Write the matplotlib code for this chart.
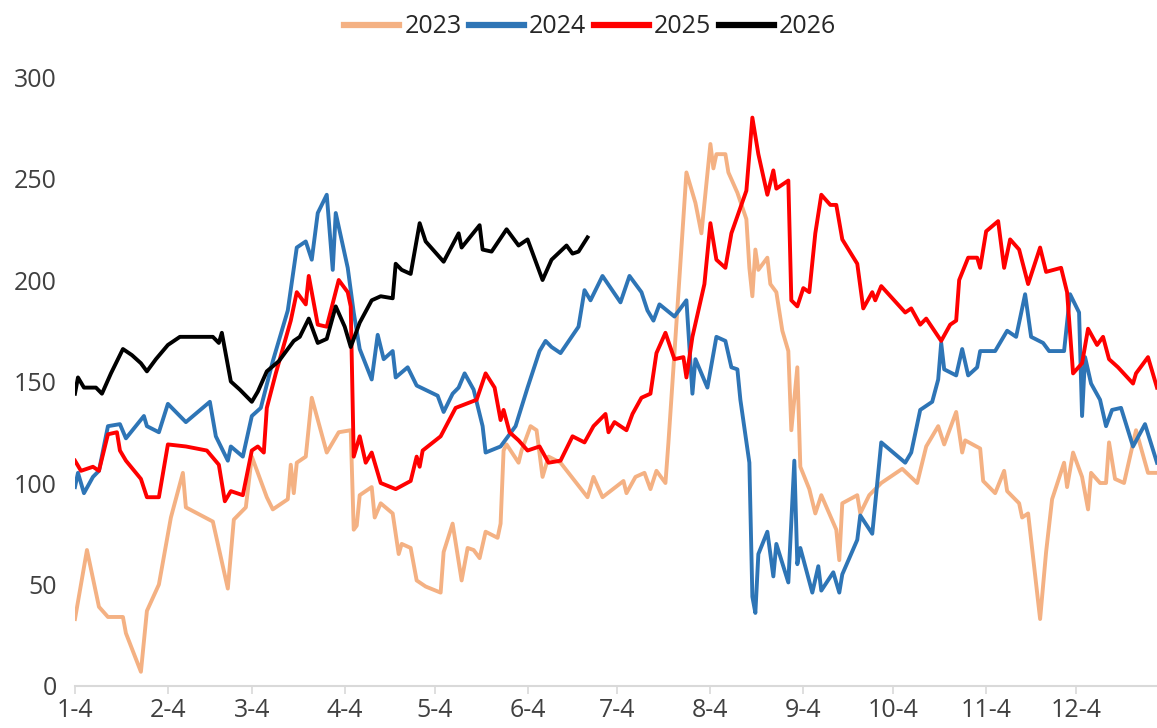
import datetime as dt
import matplotlib
matplotlib.use("Agg")
import matplotlib.pyplot as plt

# --- Data (day offset from Jan 4, value) -------------------------------------

months = list(range(1, 13))
tick_labels = [f"{m}-4" for m in months]

days_2023 = [0, 4, 8, 11, 16, 17, 22, 24, 28, 32, 36, 37, 46, 51, 53, 57, 59, 64, 66,
             71, 72, 73, 74, 77, 79, 84, 88, 92, 93, 94, 95, 99, 100, 102, 106, 108,
             109, 112, 114, 117, 122, 123, 126, 129, 131, 133, 135, 137, 141, 142, 143,
             144, 148, 149, 152, 154, 156, 158, 162, 171, 173, 176, 183, 184, 187, 190,
             192, 194, 197, 198, 200, 204, 207, 209, 212, 213, 214, 217, 218, 221, 224,
             225, 226, 227, 228, 231, 232, 234, 236, 238, 239, 241, 242, 245, 247,
             249, 254, 255, 256, 261, 262, 265, 269, 276, 281, 284, 288, 290, 294,
             296, 297, 302, 303, 307, 310, 311, 315, 316, 318, 322, 324, 326, 330,
             331, 333, 336, 338, 339, 342, 344, 345, 347, 350, 354, 358, 361]
vals_2023 = [33, 67, 39, 34, 34, 26, 7, 37, 50, 83, 105, 88, 81, 48, 82, 88, 113, 93, 87,
             92, 109, 95, 110, 113, 142, 115, 125, 126, 77, 79, 94, 98, 83, 90, 85, 65,
             70, 68, 52, 49, 46, 66, 80, 52, 68, 67, 63, 76, 73, 80, 116,
             119, 110, 116, 128, 126, 103, 113, 110, 93, 103, 93, 101, 95, 103, 105,
             97, 106, 100, 120, 164, 253, 238, 223, 267, 255, 262, 262, 253, 243, 230,
             206, 192, 215, 205, 211, 198, 194, 175, 165, 126, 157, 108, 97, 85,
             94, 77, 62, 90, 94, 85, 94, 100, 107, 100, 118, 128, 119, 135,
             115, 121, 117, 101, 95, 106, 96, 90, 83, 85, 33, 66, 92, 110,
             98, 115, 103, 87, 105, 100, 100, 120, 102, 100, 126, 105, 105]

days_2024 = [0, 1, 3, 6, 8, 11, 15, 17, 23, 24, 28, 31, 37, 45, 47, 51, 52, 56, 59, 62,
             66, 71, 74, 77, 79, 81, 84, 86, 87, 91, 93, 95, 99, 101, 103, 106, 107,
             111, 114, 121, 123, 126, 128, 130, 133, 136, 137, 142, 147, 151, 155,
             157, 159, 162, 168, 170, 172, 176, 182, 185, 189, 191, 193, 195, 200,
             204, 206, 207, 211, 214, 217, 219, 221, 222, 225, 226, 227, 228,
             231, 233, 234, 238, 240, 241, 242, 246, 248, 249, 253, 255, 256, 261,
             262, 266, 269, 277, 279, 282, 286, 288, 289, 290, 294, 296, 298, 301,
             302, 307, 311, 314, 317, 319, 323, 325, 330, 332, 335, 336, 337, 339,
             342, 344, 346, 349, 353, 357, 361]
vals_2024 = [98, 105, 95, 103, 106, 128, 129, 122, 133, 128, 125, 139, 130, 140, 123, 111,
             118, 113, 133, 137, 160, 185, 216, 219, 210, 233, 242, 205, 233, 206, 184,
             166, 151, 173, 161, 165, 152, 157, 148, 143, 135, 144, 147, 154, 146, 128,
             115, 118, 128, 147, 165, 170, 167, 164, 177, 195, 190, 202, 189, 202, 194,
             185, 180, 188, 182, 190, 144, 161, 147, 172, 170, 157, 156, 141, 110,
             44, 36, 65, 76, 54, 70, 51, 111, 60, 68, 46, 59, 47, 56, 46, 55, 72, 84, 75,
             120, 110, 115, 136, 140, 151, 169, 156, 153, 166, 153, 157, 165, 165, 175,
             172, 193, 172, 169, 165, 165, 193, 184, 133, 162, 149, 141, 128, 136, 137,
             118, 129, 110]

days_2025 = [0, 2, 6, 8, 11, 14, 15, 17, 22, 24, 28, 31, 37, 44, 48, 50, 52, 56, 59, 61,
             63, 64, 67, 72, 74, 77, 78, 81, 84, 88, 91, 92, 93, 95, 97, 99, 102, 107,
             112, 114, 115, 116, 122, 127, 134, 137, 140, 142, 143, 145, 148, 151, 155,
             158, 162, 166, 170, 173, 177, 178, 180, 184, 186, 189, 192, 193, 194, 197,
             200, 203, 204, 206, 210, 212, 214, 217, 219, 224, 226, 228, 231, 233, 234,
             238, 239, 241, 243, 245, 247, 249, 252, 254, 256, 261, 263, 266, 267, 269,
             277, 279, 282, 284, 289, 292, 294, 295, 298, 301, 302, 304, 308, 310, 312,
             315, 318, 322, 324, 329, 331, 333, 336, 338, 341, 343, 345, 348, 353, 354,
             358, 361]
vals_2025 = [111, 106, 108, 106, 124, 125, 116, 111, 102, 93, 93, 119, 118, 116, 109, 91,
             96, 94, 116, 118, 115, 137, 154, 180, 194, 188, 202, 178, 177, 200, 194, 187,
             113, 123, 110, 115, 100, 97, 101, 113, 108, 116, 123, 137, 141, 154, 147, 131,
             136, 125, 121, 116, 118, 110, 111, 123, 120, 128, 134, 125, 130, 126, 134,
             142, 144, 154, 164, 174, 161, 162, 152, 172, 198, 228, 210, 206, 223, 244,
             280, 262, 242, 254, 245, 249, 190, 187, 196, 194, 223, 242, 237, 237, 220,
             208, 186, 194, 190, 197, 184, 186, 178, 181, 170, 178, 180, 200, 211, 211,
             206, 224, 229, 206, 220, 215, 198, 216, 204, 206, 194, 154, 159, 176, 168,
             172, 161, 157, 149, 154, 162, 147]

days_2026 = [0, 1, 3, 7, 9, 12, 16, 19, 22, 24, 27, 31, 35, 46, 48, 49, 52, 55, 59, 61,
             64, 68, 73, 75, 78, 81, 84, 87, 90, 92, 95, 99, 102, 106, 107, 109, 112,
             115, 117, 123, 128, 129, 135, 136, 139, 144, 148, 151, 156, 159, 164, 166,
             168, 171]
vals_2026 = [144, 152, 147, 147, 144, 154, 166, 163, 159, 155, 161, 168, 172, 172, 169,
             174, 150, 146, 140, 145, 155, 160, 170, 172, 181, 169, 171, 187, 177, 167,
             179, 190, 192, 191, 208, 205, 203, 228, 219, 209, 223, 216, 227, 215, 214,
             225, 217, 220, 200, 210, 217, 213, 214, 221]

series = [
    ("2023", days_2023, vals_2023, "#F4B183"),
    ("2024", days_2024, vals_2024, "#2E75B6"),
    ("2025", days_2025, vals_2025, "#FF0000"),
    ("2026", days_2026, vals_2026, "#000000"),
]

# --- Plot --------------------------------------------------------------------

plt.rcParams["font.family"] = ["Open Sans", "DejaVu Sans"]

start = dt.date(2023, 1, 4)
tick_pos = [(dt.date(2023, m, 4) - start).days for m in months]

fig = plt.figure(figsize=(11.57, 7.28), dpi=100)
ax = fig.add_axes([0.0648, 0.0577, 0.9352, 0.8365])

for name, d, v, c in series:
    ax.plot(d, v, color=c, lw=2.8, label=name, solid_joinstyle="round")

ax.set_xlim(0, 361)
ax.set_ylim(0, 300)
ax.set_yticks(range(0, 301, 50))
ax.set_xticks(tick_pos)
ax.set_xticklabels(tick_labels)

for s in ["top", "right", "left"]:
    ax.spines[s].set_visible(False)
ax.spines["bottom"].set_color("#D9D9D9")
ax.spines["bottom"].set_linewidth(1.5)
ax.tick_params(axis="y", length=0, pad=13, labelsize=18, labelcolor="#404040")
ax.tick_params(axis="x", length=6, width=1.2, color="#D9D9D9", pad=3,
               labelsize=18, labelcolor="#404040")

fig.legend(loc="center", bbox_to_anchor=(0.51, 0.963), ncol=4, frameon=False,
           fontsize=18, handlelength=2.2, handletextpad=0.2, columnspacing=0.3,
           labelcolor="#262626")
for line in fig.legends[0].get_lines():
    line.set_linewidth(4.5)

fig.savefig("out.png", dpi=100)
